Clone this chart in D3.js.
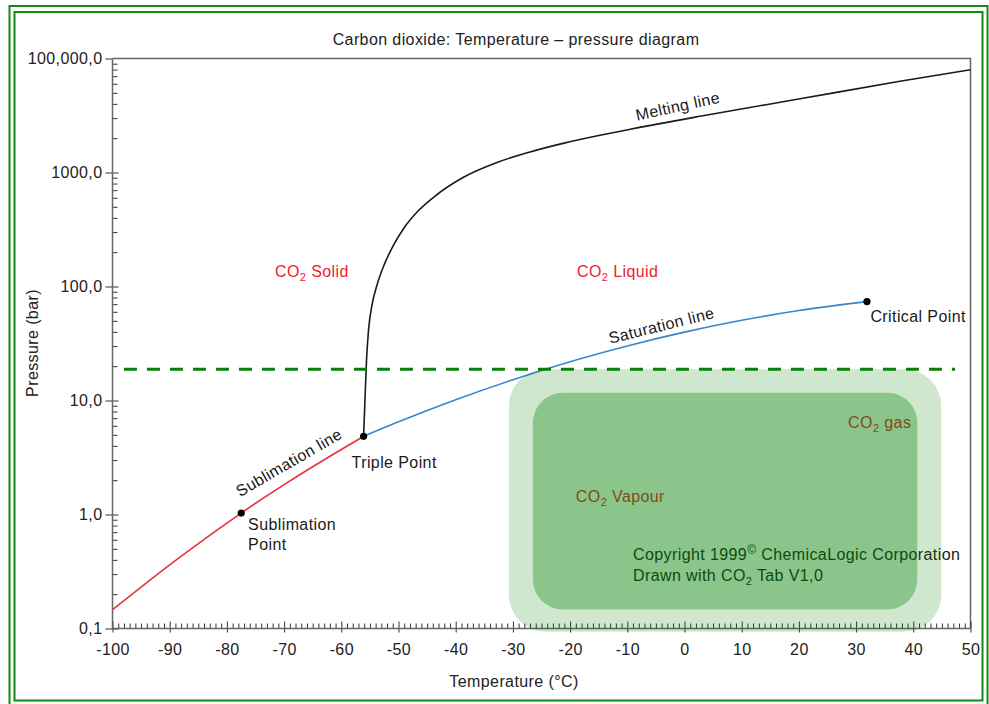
<!DOCTYPE html>
<html>
<head>
<meta charset="utf-8">
<script src="https://cdn.jsdelivr.net/npm/d3@7"></script>
<style>
  body { margin: 0; background: #fff; }
  svg text { font-family: 'Liberation Sans', Arial, Helvetica, sans-serif; font-size: 16px; letter-spacing: 0.4px; }
</style>
</head>
<body>
<div id="chart"></div>
<script>
// Axis ticks (the top label reads 100,000,0 in the original, although it sits at 10^4)
var xTicks = [-100, -90, -80, -70, -60, -50, -40, -30, -20, -10, 0, 10, 20, 30, 40, 50];
var yTicks = [0.1, 1, 10, 100, 1000, 10000];
var yTickLabels = ['0,1', '1,0', '10,0', '100,0', '1000,0', '100,000,0'];

// Curves, temperature in °C and pressure in bar
var sublimationT = [-100, -90, -80, -77.5, -70, -60, -56.1];
var sublimationP = [0.146, 0.362, 0.841, 1.03, 1.83, 3.72, 4.85];

var saturationT = [-56.1, -50, -40, -30, -20, -10, 0, 10, 20, 31.9];
var saturationP = [4.85, 6.5, 10.15, 15.2, 21.9, 30.1, 39.8, 50.5, 61.5, 73.7];

var meltingT = [-56.1, -55.86, -55.59, -55.24, -54.63, -53.76, -52.53, -50.96, -49.04, -46.59, -43.6, -38.72,
  -32.78, -27.01, -21.24, -14.77, -9.53, 2.71, 20.19, 37.67, 50];
var meltingP = [4.85, 10.1, 22.6, 41.5, 68.9, 103, 154, 226, 326, 459, 622, 904,
  1224, 1513, 1800, 2120, 2393, 3112, 4431, 6310, 7960];

// Marked points
var pointT = [-77.5, -56.1, 31.9];
var pointP = [1.03, 4.85, 73.7];

// Horizontal dashed line
var dashT = [-98, 47.3];
var dashP = 18.8;

// Rounded boxes over the lower right corner: [T left, T right, p bottom, p top]
var boxOuter = [-30.7, 44.9, 0.0937, 18.8];
var boxInner = [-26.5, 40.7, 0.147, 11.7];

// Text in the plot ("_2" is a subscript 2, "^©" a raised ©)
var labelText = ['CO_2 Solid', 'CO_2 Liquid', 'CO_2 gas', 'CO_2 Vapour',
  'Copyright 1999^© ChemicaLogic Corporation', 'Drawn with CO_2 Tab V1,0',
  'Sublimation', 'Point', 'Triple Point', 'Critical Point',
  'Melting line', 'Saturation line', 'Sublimation line'];
var labelT = [-71.6, -18.8, 28.6, -19.0, -9.0, -9.0, -76.3, -76.3, -58.2, 32.5, -8.3, -13.0, -77.7];
var labelP = [121, 121, 5.7, 1.29, 0.399, 0.262, 0.731, 0.489, 2.56, 48.9, 2845, 31.4, 1.42];
var labelAngle = [0, 0, 0, 0, 0, 0, 0, 0, 0, 0, -12.3, -13.9, -30];

var width = 989, height = 704;
var plotLeft = 112.5, plotRight = 970.5, plotTop = 58.5, plotBottom = 628.5;

var svg = d3.select('#chart').append('svg')
    .attr('width', width)
    .attr('height', height);

//Double green frame
svg.append('rect')
    .attr('x', 9.5).attr('y', 6)
    .attr('width', 978).attr('height', 702)
    .style('fill', 'none').style('stroke', '#138a13').style('stroke-width', 2);
svg.append('rect')
    .attr('x', 14.5).attr('y', 12)
    .attr('width', 968).attr('height', 688.5)
    .style('fill', 'none').style('stroke', '#138a13').style('stroke-width', 2);

var x = d3.scaleLinear().domain([-100, 50]).range([plotLeft, plotRight]);
var y = d3.scaleLog().domain([0.1, 10000]).range([plotBottom, plotTop]);

//Top and right edge of the plot box
svg.append('path')
    .attr('d', 'M' + plotLeft + ',' + plotTop + 'H' + plotRight + 'V' + plotBottom)
    .style('fill', 'none').style('stroke', '#666').style('stroke-width', 1.5);

//Minor tick positions
var xMinor = d3.range(-100, 51).filter(function(d) { return d % 10 !== 0; });
var yMinor = [];
yTicks.slice(0, -1).forEach(function(d) {
    for (var m = 2; m <= 9; m++) yMinor.push(d * m);
});

function styleAxis(g) {
    g.attr('font-size', null).attr('font-family', null);
    g.select('.domain').remove();
    g.selectAll('line').style('stroke', '#333').style('stroke-width', 1);
    g.selectAll('text').style('fill', '#222');
}

// x axis
var xg = svg.append('g').attr('transform', 'translate(0,' + plotBottom + ')');
xg.append('g').call(d3.axisBottom(x).tickValues(xMinor).tickSize(-5).tickFormat('')).call(styleAxis);
xg.append('g').call(d3.axisBottom(x).tickValues(xTicks).tickSize(-7).tickFormat('')).call(styleAxis);
xg.append('g').call(d3.axisBottom(x).tickValues(xTicks).tickSize(4).tickPadding(11)
    .tickFormat(function(d) { return String(d); })).call(styleAxis);

// y axis
var yg = svg.append('g').attr('transform', 'translate(' + plotLeft + ',0)');
yg.append('g').call(d3.axisLeft(y).tickValues(yMinor).tickSize(-5).tickFormat('')).call(styleAxis);
yg.append('g').call(d3.axisLeft(y).tickValues(yTicks.slice(0, -1)).tickSize(-6).tickFormat('')).call(styleAxis);
yg.append('g').call(d3.axisLeft(y).tickValues(yTicks).tickSize(7).tickPadding(3)
    .tickFormat(function(d, i) { return yTickLabels[i]; })).call(styleAxis);

//Axis lines
svg.append('path')
    .attr('d', 'M' + plotLeft + ',' + plotTop + 'V' + plotBottom + 'H' + plotRight)
    .style('fill', 'none').style('stroke', '#666').style('stroke-width', 1.5);

// Title and axis titles
svg.append('text').attr('x', 516).attr('y', 45).attr('text-anchor', 'middle')
    .style('fill', '#222').text('Carbon dioxide: Temperature \u2013 pressure diagram');
svg.append('text').attr('x', 514).attr('y', 687).attr('text-anchor', 'middle')
    .style('fill', '#222').text('Temperature (\u00b0C)');
svg.append('text').attr('transform', 'translate(38,343) rotate(-90)').attr('text-anchor', 'middle')
    .style('fill', '#222').text('Pressure (bar)');

// Curves
var line = d3.line()
    .x(function(d) { return x(d[0]); })
    .y(function(d) { return y(d[1]); })
    .curve(d3.curveMonotoneX);

function zip(a, b) { return a.map(function(v, i) { return [v, b[i]]; }); }

svg.append('path').datum(zip(sublimationT, sublimationP)).attr('d', line)
    .style('fill', 'none').style('stroke', '#e8303a').style('stroke-width', 1.6);
svg.append('path').datum(zip(saturationT, saturationP)).attr('d', line)
    .style('fill', 'none').style('stroke', '#3a86c8').style('stroke-width', 1.6);
svg.append('path').datum(zip(meltingT, meltingP)).attr('d', line)
    .style('fill', 'none').style('stroke', '#1a1a1a').style('stroke-width', 1.6);

svg.selectAll('circle.pt').data(zip(pointT, pointP)).enter().append('circle')
    .attr('class', 'pt')
    .attr('cx', function(d) { return x(d[0]); })
    .attr('cy', function(d) { return y(d[1]); })
    .attr('r', 3.6)
    .style('fill', '#000');

// Labels, CO2 with a real subscript
function richText(sel, str) {
    var bits = str.split(/(_2|\^©)/);
    var shift = 0;
    bits.forEach(function(b) {
        if (!b) return;
        if (b === '_2') {
            sel.append('tspan').attr('dy', 4).style('font-size', '11px').text('2');
            shift = -4;
        } else if (b === '^©') {
            sel.append('tspan').attr('dy', -6).style('font-size', '12px').text('\u00a9');
            shift = 6;
        } else {
            sel.append('tspan').attr('dy', shift).text(b);
            shift = 0;
        }
    });
}

labelText.forEach(function(t, i) {
    var px = x(labelT[i]), py = y(labelP[i]);
    var txt = svg.append('text')
        .attr('transform', 'translate(' + px + ',' + py + ') rotate(' + labelAngle[i] + ')')
        .style('fill', t.indexOf('CO_2') === 0 ? '#ec1c2e' : '#1a1a1a');
    richText(txt, t);
});

// Green rounded boxes laid over the corner
function box(b, rx, op) {
    svg.append('rect')
        .attr('x', x(b[0])).attr('y', y(b[3]))
        .attr('width', x(b[1]) - x(b[0]))
        .attr('height', y(b[2]) - y(b[3]))
        .attr('rx', rx).attr('ry', rx)
        .style('fill', '#008000').style('opacity', op);
}
box(boxOuter, 37, 0.19);
box(boxInner, 30, 0.33);

// Dashed line on top
svg.append('line')
    .attr('x1', x(dashT[0])).attr('x2', x(dashT[1]))
    .attr('y1', y(dashP)).attr('y2', y(dashP))
    .style('stroke', '#0a800a').style('stroke-width', 3.2)
    .style('stroke-dasharray', '13,10');
</script>
</body>
</html>
